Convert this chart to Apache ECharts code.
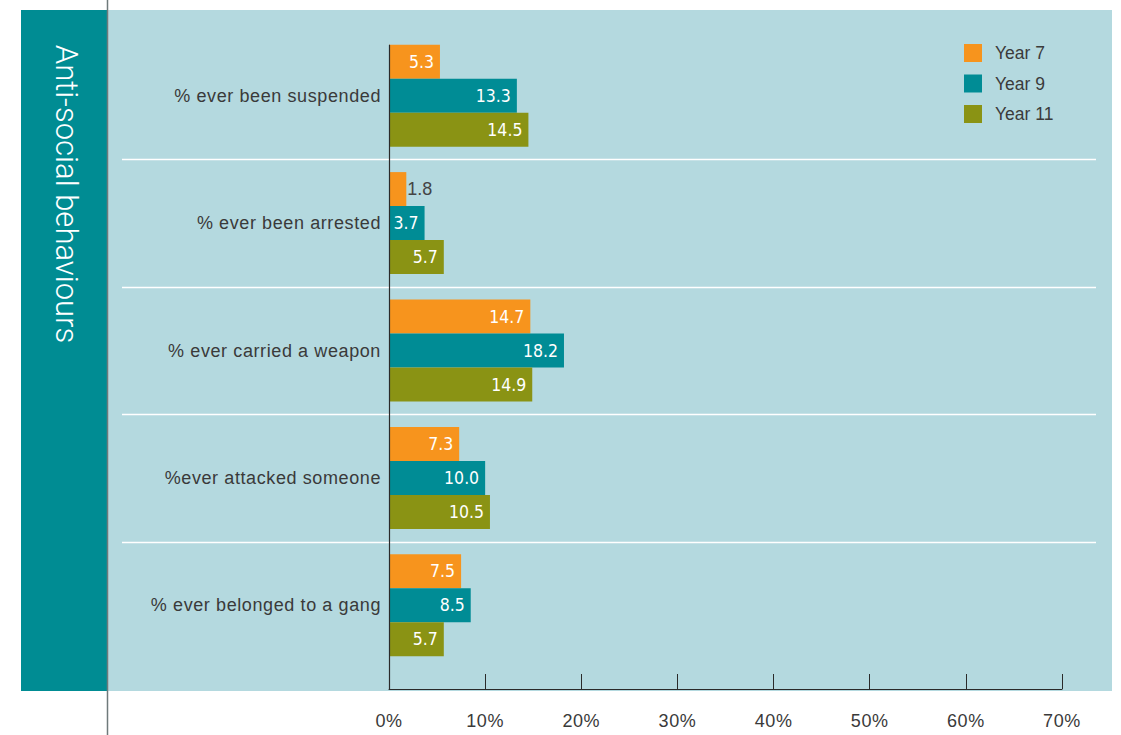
<!DOCTYPE html>
<html>
<head>
<meta charset="utf-8">
<script src="https://cdn.jsdelivr.net/npm/echarts@6/dist/echarts.min.js"></script>
<style>
  html, body { margin: 0; padding: 0; background: #fff; }
  #chart { width: 1121px; height: 735px; }
  /* the printed chart uses loosely tracked labels and condensed value labels */
  #chart text[fill="#3a3a3a"] { letter-spacing: 0.6px; }
  #chart text[fill="#fff"] { font-stretch: condensed !important; }
</style>
</head>
<body>
<div id="chart"></div>
<script>
// categories, top to bottom
const categories = [
  '% ever been suspended',
  '% ever been arrested',
  '% ever carried a weapon',
  '%ever attacked someone',
  '% ever belonged to a gang'
]
const seriesNames = ['Year 7', 'Year 9', 'Year 11']
const year7 = [5.3, 1.8, 14.7, 7.3, 7.5]
const year9 = [13.3, 3.7, 18.2, 10.0, 8.5]
const year11 = [14.5, 5.7, 14.9, 10.5, 5.7]
const xTicks = [0, 10, 20, 30, 40, 50, 60, 70]

const colors = ['#f7941d', '#008c95', '#8a9314']
const sideTitle = 'Anti-social behaviours'
const textFont = "'Liberation Sans', Arial, sans-serif"
const valueFont = "'DejaVu Sans Condensed', 'DejaVu Sans', sans-serif"

const chart = echarts.init(document.getElementById('chart'), null, { renderer: 'svg' })

// short bars get their label outside, in dark text
function toData(values) {
  return values.map(v => {
    if (v < 3) {
      return { value: v, label: { position: 'right', color: '#444', fontFamily: textFont, fontSize: 18, distance: 1 } }
    }
    return v
  })
}

function makeSeries(name, values) {
  return {
    name: name,
    type: 'bar',
    barWidth: 34,
    barGap: '0%',
    data: toData(values),
    label: {
      show: true,
      position: 'insideRight',
      distance: 6,
      color: '#fff',
      fontFamily: valueFont,
      fontSize: 17.5,
      formatter: p => Number(p.value).toFixed(1)
    },
    emphasis: { disabled: true },
    z: 5
  }
}

chart.setOption({
  animation: false,
  color: colors,
  textStyle: { fontFamily: textFont },
  grid: { left: 389, right: 59, top: 32, bottom: 66, containLabel: false },
  legend: {
    orient: 'vertical',
    left: 959,
    top: 39,
    itemWidth: 18,
    itemHeight: 18,
    itemGap: 12.5,
    icon: 'rect',
    data: seriesNames,
    textStyle: { fontSize: 17.5, color: '#3b3b3b', padding: [0, 0, 0, 8] }
  },
  xAxis: {
    type: 'value',
    min: xTicks[0],
    max: xTicks[xTicks.length - 1],
    interval: 10,
    axisLine: { show: true, onZero: false, lineStyle: { color: '#2a2a2a', width: 1 } },
    offset: 20,
    axisTick: { show: true, inside: true, length: 15, lineStyle: { color: '#2a2a2a' } },
    axisLabel: { formatter: '{value}%', color: '#3a3a3a', fontSize: 18, margin: 23 },
    splitLine: { show: false }
  },
  yAxis: {
    type: 'category',
    inverse: true,
    data: categories,
    axisLine: { show: false },
    axisTick: { show: false },
    axisLabel: { color: '#3a3a3a', fontSize: 18, margin: 8 },
    splitLine: { show: false }
  },
  series: [
    makeSeries(seriesNames[0], year7),
    makeSeries(seriesNames[1], year9),
    makeSeries(seriesNames[2], year11)
  ]
})

// background panels, separators and the value axis' left edge
const x0 = chart.convertToPixel({ xAxisIndex: 0 }, 0)
const centers = categories.map((c, i) => chart.convertToPixel({ yAxisIndex: 0 }, i))
const band = centers[1] - centers[0]
const axisY = 735 - 66 + 20

const graphics = [
  { type: 'rect', z: -10, shape: { x: 107, y: 10, width: 1005, height: 681 }, style: { fill: '#b4d9df' } },
  { type: 'rect', z: -10, shape: { x: 21, y: 10, width: 86, height: 681 }, style: { fill: '#008c93' } },
  { type: 'line', z: -5, shape: { x1: 107.5, y1: 0, x2: 107.5, y2: 735 }, style: { stroke: '#6f7a7b', lineWidth: 1.5 } },
  {
    type: 'text', z: 10, x: 66, y: 194, rotation: -Math.PI / 2,
    style: {
      text: sideTitle, fill: 'white', fontSize: 31, fontFamily: 'Roboto, sans-serif', fontWeight: 300,
      align: 'center', verticalAlign: 'middle'
    }
  },
  { type: 'line', z: 20, shape: { x1: x0 + 0.5, y1: centers[0] - 51, x2: x0 + 0.5, y2: axisY }, style: { stroke: '#2a2a2a', lineWidth: 1.2 } }
]
for (let i = 0; i < centers.length - 1; i++) {
  const y = Math.round(centers[i] + band / 2) + 0.5
  graphics.push({ type: 'line', z: -4, shape: { x1: 122, y1: y, x2: 1096, y2: y }, style: { stroke: '#ffffff', lineWidth: 1.5 } })
}
chart.setOption({ graphic: graphics })
</script>
</body>
</html>
